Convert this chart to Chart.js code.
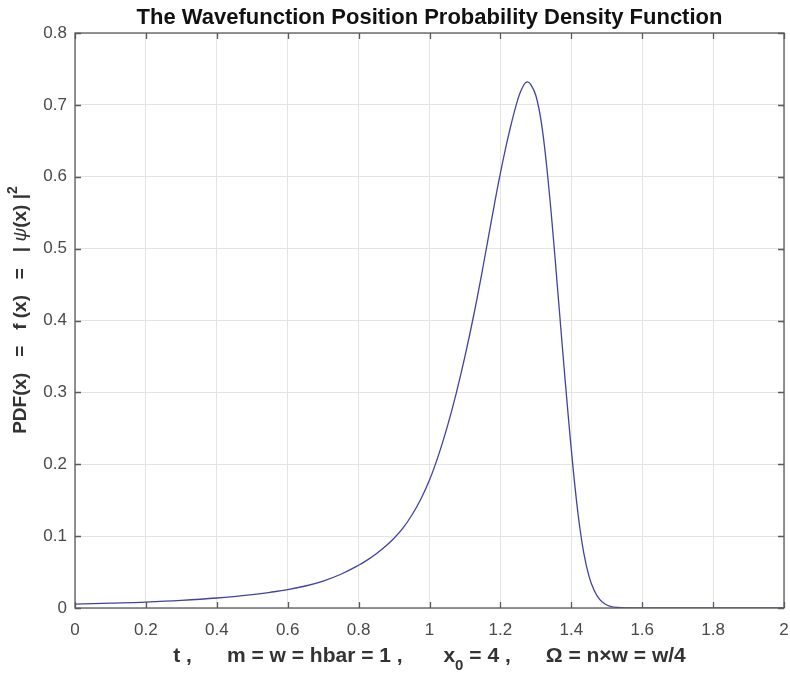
<!DOCTYPE html>
<html>
<head>
<meta charset="utf-8">
<title>Wavefunction PDF</title>
<script src="https://cdn.jsdelivr.net/npm/chart.js@4"></script>
<style>
  html, body { margin: 0; padding: 0; background: #fff; }
  canvas { display: block; }
</style>
</head>
<body>
<canvas id="pdfChart" width="790" height="673"></canvas>
<script>
// values
const xValues = [0, 0.1, 0.2, 0.3, 0.4, 0.5, 0.55, 0.6, 0.65, 0.7, 0.75, 0.8, 0.825, 0.85, 0.875, 0.9, 0.925, 0.95, 0.975, 1.0, 1.025, 1.05, 1.075, 1.1, 1.125, 1.15, 1.175, 1.2, 1.225, 1.25, 1.265, 1.275, 1.285, 1.3, 1.315, 1.33, 1.345, 1.36, 1.375, 1.39, 1.405, 1.42, 1.435, 1.45, 1.465, 1.48, 1.495, 1.51, 1.53, 1.56, 1.6, 2.0];
const pdfValues = [0.0055, 0.0068, 0.0083, 0.0106, 0.0139, 0.0186, 0.0218, 0.0255, 0.0306, 0.0375, 0.047, 0.0595, 0.067, 0.0755, 0.0855, 0.097, 0.111, 0.129, 0.151, 0.178, 0.212, 0.252, 0.298, 0.350, 0.408, 0.472, 0.540, 0.605, 0.662, 0.709, 0.727, 0.732, 0.729, 0.713, 0.677, 0.617, 0.540, 0.452, 0.362, 0.275, 0.195, 0.127, 0.077, 0.044, 0.024, 0.012, 0.0055, 0.0023, 0.0007, 0.0001, 0, 0];
const xTicks = [0, 0.2, 0.4, 0.6, 0.8, 1, 1.2, 1.4, 1.6, 1.8, 2];
const yTicks = [0, 0.1, 0.2, 0.3, 0.4, 0.5, 0.6, 0.7, 0.8];

const chartTitle = "The Wavefunction Position Probability Density Function";
const xLabelParts = [
    { text: "t ,      m = w = hbar = 1 ,       x" },
    { text: "0", sub: true },
    { text: " = 4 ,      \u03A9 = n\u00D7w = w/4" }
];
const yLabelParts = [
    { text: "PDF(x)   =   f (x)   =   | " },
    { text: "\u03C8", italic: true },
    { text: "(x) |" },
    { text: "2", sup: true }
];

const FONT = "'Liberation Sans', Arial, Helvetica, sans-serif";

// draws a row of text pieces (sub/superscripts) centred at 0,0
function drawPieces(ctx, parts, size) {
    let fontFor = p => {
        let s = (p.sub || p.sup) ? Math.round(size * 0.72) : size;
        return (p.italic ? "italic " : "bold ") + s + "px " + FONT;
    };
    let total = 0;
    parts.forEach(p => {
        ctx.font = fontFor(p);
        p.w = ctx.measureText(p.text).width;
        total += p.w;
    });
    let cx = -total / 2;
    parts.forEach(p => {
        ctx.font = fontFor(p);
        let dy = p.sub ? size * 0.38 : (p.sup ? -size * 0.45 : 0);
        ctx.fillText(p.text, cx, dy);
        cx += p.w;
    });
}

const frame = {
    id: "frame",
    afterDraw(chart) {
        let ctx = chart.ctx;
        let a = chart.chartArea;
        let x = chart.scales.x;
        let y = chart.scales.y;
        ctx.save();

        // box and inward ticks
        ctx.strokeStyle = "#5a5a5a";
        ctx.lineWidth = 1.3;
        ctx.strokeRect(a.left, a.top, a.right - a.left, a.bottom - a.top);
        ctx.beginPath();
        xTicks.forEach(v => {
            let px = Math.round(x.getPixelForValue(v)) + 0.5;
            ctx.moveTo(px, a.bottom); ctx.lineTo(px, a.bottom - 6);
            ctx.moveTo(px, a.top); ctx.lineTo(px, a.top + 6);
        });
        yTicks.forEach(v => {
            let py = Math.round(y.getPixelForValue(v)) + 0.5;
            ctx.moveTo(a.left, py); ctx.lineTo(a.left + 6, py);
            ctx.moveTo(a.right, py); ctx.lineTo(a.right - 6, py);
        });
        ctx.stroke();

        // title
        ctx.fillStyle = "#111";
        ctx.textAlign = "center";
        ctx.textBaseline = "alphabetic";
        ctx.font = "bold 22px " + FONT;
        ctx.fillText(chartTitle, (a.left + a.right) / 2, 24);

        // x label
        ctx.fillStyle = "#333";
        ctx.textAlign = "left";
        ctx.save();
        ctx.translate((a.left + a.right) / 2, 662);
        drawPieces(ctx, xLabelParts, 21);
        ctx.restore();

        // y label
        ctx.save();
        ctx.translate(26, 310);
        ctx.rotate(-Math.PI / 2);
        drawPieces(ctx, yLabelParts, 19);
        ctx.restore();

        ctx.restore();
    }
};

let points = xValues.map((v, i) => ({ x: v, y: pdfValues[i] }));

new Chart(document.getElementById("pdfChart"), {
    type: "line",
    data: {
        datasets: [{
            data: points,
            borderColor: "#4242a2",
            borderWidth: 1.3,
            pointRadius: 0,
            fill: false,
            tension: 0.4
        }]
    },
    options: {
        responsive: false,
        animation: false,
        layout: { padding: { top: 33, right: 6, left: 0, bottom: 0 } },
        plugins: {
            legend: { display: false },
            tooltip: { enabled: false },
            title: { display: false }
        },
        scales: {
            x: {
                type: "linear",
                min: 0,
                max: 2,
                afterBuildTicks: s => { s.ticks = xTicks.map(v => ({ value: v })); },
                afterFit: s => { s.height = 65; s.paddingLeft = 0; s.paddingRight = 0; },
                grid: { color: "#e4e4e4", drawTicks: false },
                border: { display: false },
                ticks: {
                    padding: 12,
                    color: "#4a4a4a",
                    font: { family: FONT, size: 17 },
                    maxRotation: 0,
                    callback: v => String(Number(v.toFixed(1)))
                }
            },
            y: {
                type: "linear",
                min: 0,
                max: 0.8,
                afterBuildTicks: s => { s.ticks = yTicks.map(v => ({ value: v })); },
                afterFit: s => { s.width = 75; s.paddingTop = 0; s.paddingBottom = 0; },
                grid: { color: "#e4e4e4", drawTicks: false },
                border: { display: false },
                ticks: {
                    padding: 8,
                    color: "#4a4a4a",
                    font: { family: FONT, size: 17 },
                    callback: v => String(Number(v.toFixed(1)))
                }
            }
        }
    },
    plugins: [frame]
});
</script>
</body>
</html>
